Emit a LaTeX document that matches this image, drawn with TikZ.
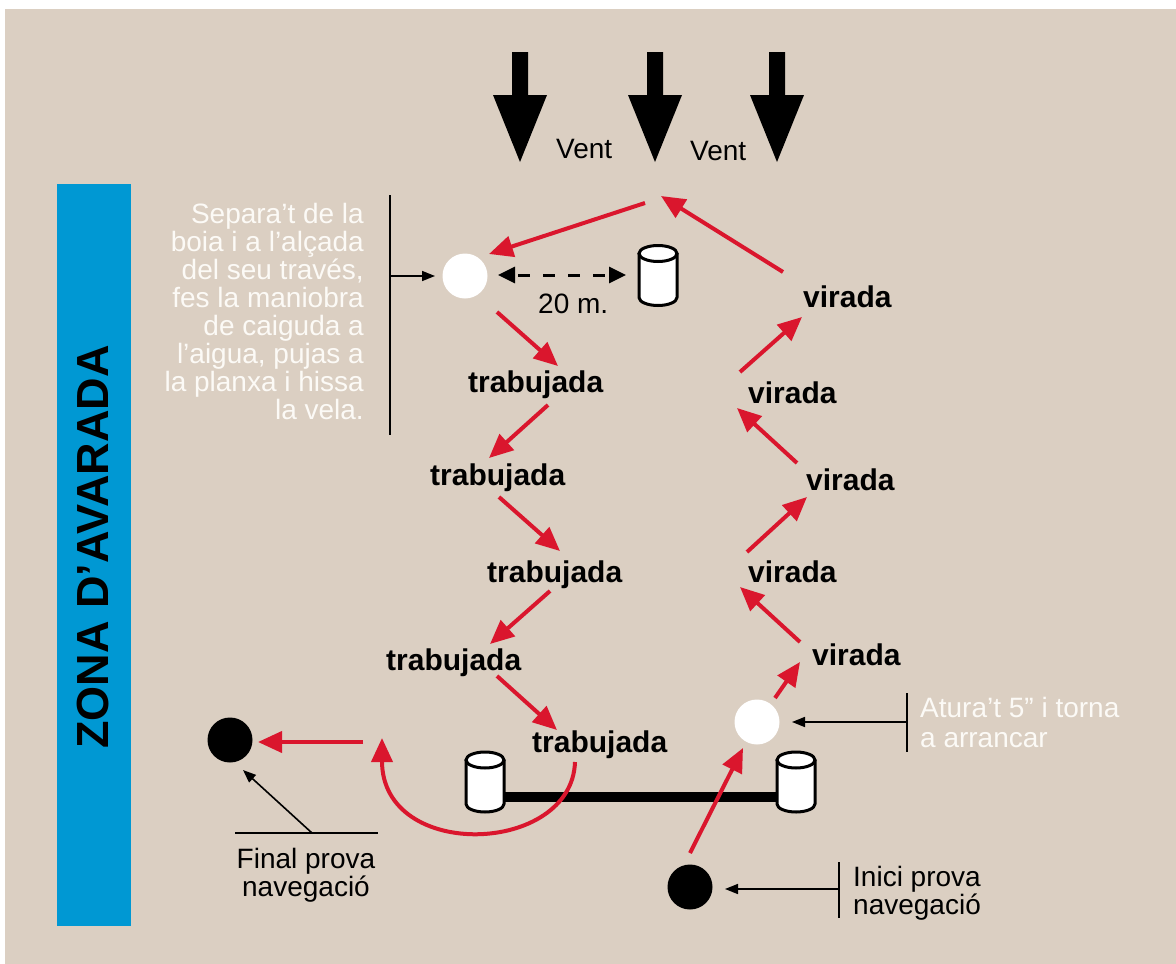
\documentclass[tikz,border=0pt]{standalone}
\usepackage{fontspec}
\setmainfont{Liberation Sans}
\usetikzlibrary{arrows.meta}
\definecolor{bg}{RGB}{219,207,194}
\definecolor{zblue}{RGB}{0,152,211}
\definecolor{rred}{RGB}{218,22,45}
\definecolor{offwhite}{RGB}{252,250,246}
\tikzset{
  cyl/.pic={
    \path[draw=black, line width=3pt, fill=white, line join=round]
      (-19,-22) -- (-19,22) arc[start angle=180, end angle=0, x radius=19, y radius=8] -- (19,-22) -- cycle;
    \draw[line width=3pt, fill=white] (0,-22) ellipse[x radius=19, y radius=8];
  },
  wind/.pic={
    \fill[black] (-8,0) -- (-8,43) -- (-27,43) -- (0,110) -- (27,43) -- (8,43) -- (8,0) -- cycle;
  }
}
\begin{document}
\begin{tikzpicture}[x=1pt,y=-1pt,
  redarrow/.style={draw=rred, line width=4pt, -{Triangle[length=24pt,width=21pt]}},
  ptr/.style={draw=black, line width=1.6pt, -{Triangle[length=13pt,width=10pt]}},
  ptrline/.style={draw=black, line width=1.6pt},
  lbl/.style={font=\fontsize{30}{30}\selectfont\bfseries, inner sep=0pt, anchor=base west},
  txt/.style={font=\fontsize{28}{28}\selectfont, inner sep=0pt},
  buoyw/.style={circle, fill=white, minimum size=45pt, inner sep=0pt},
  buoyb/.style={circle, fill=black, minimum size=45pt, inner sep=0pt}
]
% background
\fill[white] (0,0) rectangle (1176,964);
\fill[bg] (5,9) rectangle (1176,964);
\useasboundingbox (0,0) rectangle (1176,964);

% blue zone
\fill[zblue] (57,184) rectangle (131,926);
\node[font=\fontsize{45}{45}\selectfont\bfseries, rotate=90, inner sep=0pt] (zona) at (93,547) {ZONA D’AVARADA};

% wind arrows
\coordinate (w1) at (520,52);
\coordinate (w2) at (655,52);
\coordinate (w3) at (777,52);
\pic at (w1) {wind};
\pic at (w2) {wind};
\pic at (w3) {wind};
\node[txt, anchor=base west] (vent1) at (556,158) {Vent};
\node[txt, anchor=base west] (vent2) at (690,160) {Vent};

% top buoys
\node[buoyw] (wb1) at (465,276) {};
\coordinate (cylT) at (658,275.5);
\pic at (cylT) {cyl};
\coordinate (dA) at (498,275);
\coordinate (dB) at (626,275);
\draw[line width=3pt, dash pattern=on 12pt off 13pt, dash phase=-4pt,
  {Triangle[length=17pt,width=16pt]}-{Triangle[length=17pt,width=16pt]}] (dA) -- (dB);
\node[txt, anchor=base west] (dist) at (538,313) {20 m.};

% left instruction text
\node[txt, text=offwhite, align=right, anchor=north east] (instr) at (364,203)
  {Separa’t de la\\boia i a l’alçada\\del seu través,\\fes la maniobra\\de caiguda a\\l’aigua, pujas a\\la planxa i hissa\\la vela.};
\coordinate (iL1) at (390,195);
\coordinate (iL2) at (390,435);
\coordinate (iA) at (390,276);
\coordinate (iB) at (435,276);
\draw[ptrline] (iL1) -- (iL2);
\draw[ptr] (iA) -- (iB);

% top legs
\coordinate (r0a) at (783,272);
\coordinate (r0b) at (661,196);
\coordinate (r1a) at (645,203);
\coordinate (r1b) at (489,254);
\draw[redarrow] (r0a) -- (r0b);
\draw[redarrow] (r1a) -- (r1b);

% trabujada zigzag
\node[lbl] (tb1) at (468,392) {trabujada};
\node[lbl] (tb2) at (430,485) {trabujada};
\node[lbl] (tb3) at (487,582) {trabujada};
\node[lbl] (tb4) at (386,670) {trabujada};
\node[lbl] (tb5) at (532,752) {trabujada};
\coordinate (t1a) at (497,312); \coordinate (t1b) at (558,366);
\coordinate (t2a) at (548,405); \coordinate (t2b) at (489,458);
\coordinate (t3a) at (499,497); \coordinate (t3b) at (560,551);
\coordinate (t4a) at (550,591); \coordinate (t4b) at (490,644);
\coordinate (t5a) at (497,676); \coordinate (t5b) at (557,730);
\draw[redarrow] (t1a) -- (t1b);
\draw[redarrow] (t2a) -- (t2b);
\draw[redarrow] (t3a) -- (t3b);
\draw[redarrow] (t4a) -- (t4b);
\draw[redarrow] (t5a) -- (t5b);

% virada zigzag
\node[lbl] (vr1) at (803,307) {virada};
\node[lbl] (vr2) at (748,403) {virada};
\node[lbl] (vr3) at (806,490) {virada};
\node[lbl] (vr4) at (748,582) {virada};
\node[lbl] (vr5) at (812,665) {virada};
\coordinate (v1a) at (740,372); \coordinate (v1b) at (802,317);
\coordinate (v2a) at (797,463); \coordinate (v2b) at (737,408);
\coordinate (v3a) at (747,552); \coordinate (v3b) at (807,497);
\coordinate (v4a) at (800,642); \coordinate (v4b) at (740,587);
\coordinate (v5a) at (775,698); \coordinate (v5b) at (800,662);
\draw[redarrow] (v1a) -- (v1b);
\draw[redarrow] (v2a) -- (v2b);
\draw[redarrow] (v3a) -- (v3b);
\draw[redarrow] (v4a) -- (v4b);
\draw[redarrow] (v5a) -- (v5b);

% start line with buoys
\coordinate (cylL) at (485,782);
\coordinate (cylR) at (796,782);
\coordinate (barL) at (485,797);
\coordinate (barR) at (796,797);
\draw[line width=10pt] (barL) -- (barR);
\pic at (cylL) {cyl};
\pic at (cylR) {cyl};

% stop buoy
\node[buoyw] (wb2) at (757,722) {};
\node[buoyb] (start) at (690,887) {};
\node[buoyb] (finish) at (230,740) {};

% start leg and finish legs
\coordinate (sA) at (690,853);
\coordinate (sB) at (743,748);
\draw[redarrow] (sA) -- (sB);
\coordinate (cA) at (575,762);
\coordinate (cB) at (382,738);
\draw[redarrow] (cA) .. controls (572,855) and (382,862) .. (cB);
\coordinate (fA) at (363,742);
\coordinate (fB) at (258,742);
\draw[redarrow] (fA) -- (fB);

% stop annotation
\coordinate (aL1) at (907,693);
\coordinate (aL2) at (907,752);
\coordinate (aA) at (907,722);
\coordinate (aB) at (792,722);
\draw[ptrline] (aL1) -- (aL2);
\draw[ptr] (aA) -- (aB);
\node[font=\fontsize{28}{30}\selectfont, inner sep=0pt, text=offwhite, align=left, anchor=north west] (atura) at (920,697)
  {Atura’t 5” i torna\\a arrancar};

% start annotation
\coordinate (sL1) at (839,862);
\coordinate (sL2) at (839,918);
\coordinate (sP) at (839,889);
\coordinate (sQ) at (725,889);
\draw[ptrline] (sL1) -- (sL2);
\draw[ptr] (sP) -- (sQ);
\node[txt, align=left, anchor=north west] (inici) at (853,866) {Inici prova\\navegació};

% finish annotation
\coordinate (fL1) at (235,833);
\coordinate (fL2) at (378,833);
\coordinate (fP) at (312,833);
\coordinate (fQ) at (243,770);
\draw[ptrline] (fL1) -- (fL2);
\draw[ptr] (fP) -- (fQ);
\node[txt, align=center, anchor=north] (final) at (306,848) {Final prova\\navegació};
\end{tikzpicture}
\end{document}
